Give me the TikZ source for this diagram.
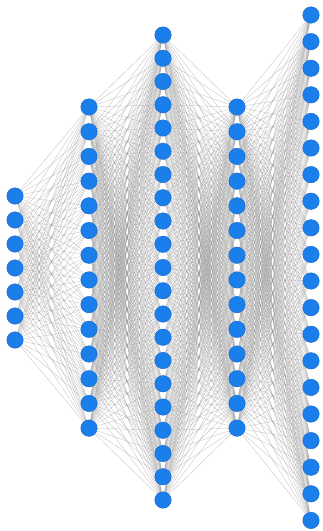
\documentclass[tikz,border=0pt]{standalone}
\usepackage{xcolor}
\usepackage{tikz}
\usetikzlibrary{backgrounds}

\definecolor{unitblue}{RGB}{26,127,234}
\definecolor{unitedge}{RGB}{20,100,200}

\begin{document}
\begin{tikzpicture}[x=1pt, y=-1pt,
  neuron/.style={circle,fill=unitblue,draw=unitedge,line width=0.4pt,minimum size=16.5pt,inner sep=0pt},
  link/.style={draw=gray!85,line width=0.3pt,opacity=0.6}]
\useasboundingbox (0,0) rectangle (323,531);
% layers: x, count, top y, spacing
\foreach \n in {1,...,7}   \node[neuron] (a\n) at (15, {196+(\n-1)*24}) {};
\foreach \n in {1,...,14}  \node[neuron] (b\n) at (89, {107+(\n-1)*24.7}) {};
\foreach \n in {1,...,21}  \node[neuron] (c\n) at (163, {35+(\n-1)*23.25}) {};
\foreach \n in {1,...,14}  \node[neuron] (d\n) at (237, {107+(\n-1)*24.7}) {};
\foreach \n in {1,...,20}  \node[neuron] (e\n) at (311, {15+(\n-1)*26.6}) {};
\begin{scope}[on background layer]
\foreach \i in {1,...,7} \foreach \j in {1,...,14} \draw[link] (a\i) -- (b\j);
\foreach \i in {1,...,14} \foreach \j in {1,...,21} \draw[link] (b\i) -- (c\j);
\foreach \i in {1,...,21} \foreach \j in {1,...,14} \draw[link] (c\i) -- (d\j);
\foreach \i in {1,...,14} \foreach \j in {1,...,20} \draw[link] (d\i) -- (e\j);
\end{scope}
\end{tikzpicture}
\end{document}
